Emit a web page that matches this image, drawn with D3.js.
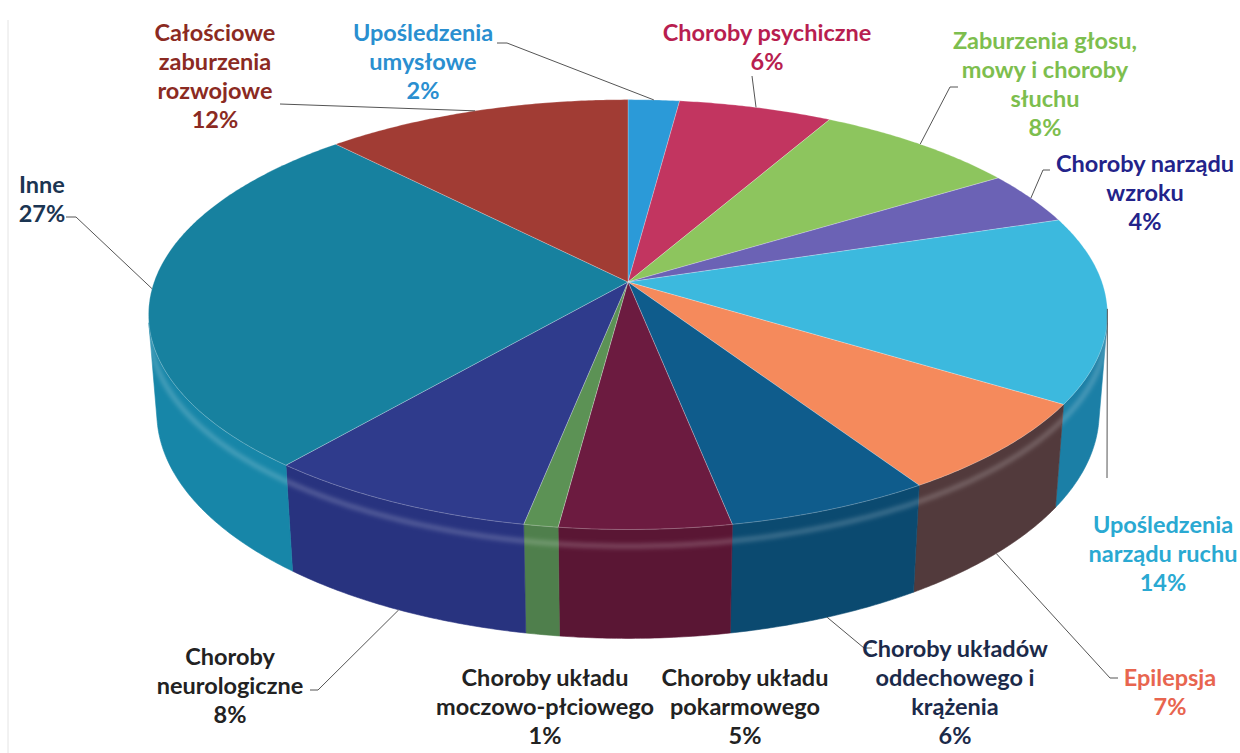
<!DOCTYPE html>
<html>
<head>
<meta charset="utf-8">
<script src="https://cdn.jsdelivr.net/npm/d3@7"></script>
<style>
  body { margin: 0; background: #fff; }
  text { font-family: Lato, "Open Sans", sans-serif; font-weight: 700; }
</style>
</head>
<body>
<svg id="chart" width="1240" height="753"></svg>
<script>
// data
const categories = [
  "Upośledzenia umysłowe", "Choroby psychiczne", "Zaburzenia głosu, mowy i choroby słuchu",
  "Choroby narządu wzroku", "Upośledzenia narządu ruchu", "Epilepsja",
  "Choroby układów oddechowego i krążenia", "Choroby układu pokarmowego",
  "Choroby układu moczowo-płciowego", "Choroby neurologiczne", "Inne",
  "Całościowe zaburzenia rozwojowe"
];
const values = [2, 6, 8, 4, 14, 7, 6, 5, 1, 8, 27, 12];
const labelLines = [
  ["Upośledzenia", "umysłowe"], ["Choroby psychiczne"], ["Zaburzenia głosu,", "mowy i choroby", "słuchu"],
  ["Choroby narządu", "wzroku"], ["Upośledzenia", "narządu ruchu"], ["Epilepsja"],
  ["Choroby układów", "oddechowego i", "krążenia"], ["Choroby układu", "pokarmowego"],
  ["Choroby układu", "moczowo-płciowego"], ["Choroby", "neurologiczne"], ["Inne"],
  ["Całościowe", "zaburzenia", "rozwojowe"]
];
const percentLabels = values.map(v => v + "%");

// colours
const topColors = ["#2b9ad8", "#c23560", "#8dc55e", "#6b62b5", "#3cb9de", "#f58a5c",
                   "#0f5c8c", "#6c1b40", "#5c9255", "#2f3b8c", "#17819f", "#a13c34"];
const sideColors = ["#1f7fb8", "#9a2448", "#6ea348", "#4f4894", "#1b7fa6", "#523a3c",
                    "#0b4a70", "#5a1634", "#4f7f4c", "#28337f", "#1786a8", "#7d2a24"];
const textColors = ["#2a8fd0", "#b81e50", "#7dbe4e", "#23238a", "#2aa9d2", "#e8654f",
                    "#1b2a4a", "#222222", "#222222", "#222222", "#1b3552", "#8b2a22"];

// label layout: centre x, centre y of first line, leader points near the label
const labelX = [423, 767, 1045, 1145, 1163, 1170, 955, 745, 545, 230, 42, 215];
const labelY = [32, 32, 40, 163, 524, 677, 648, 677, 677, 656, 184, 32];
const leaderNear = [
  [[497, 43], [507, 43]], [[752, 76]], [[958, 87], [950, 87]], [[1050, 170], [1043, 170]],
  [[1107, 478]], [[1118, 678], [1110, 678]], [[872, 648], [864, 648]], null, null,
  [[310, 690], [318, 690]], [[66, 217], [76, 217]], [[280, 104]]
];
const lineH = 29;

// 3D projection of the pie
const cx = 628, cy = 282, S = 474;
const tilt = 26.3 * Math.PI / 180, camDist = 5.92, thick = 0.232;
const F = S * camDist;
function project(theta, r, z) {
  const X = r * Math.sin(theta), Y = r * Math.cos(theta);
  const depth = camDist + Y * Math.cos(tilt) - z * Math.sin(tilt);
  const yc = Y * Math.sin(tilt) + z * Math.cos(tilt);
  return [cx + F * X / depth, cy - F * yc / depth];
}
const visA = Math.acos(-1 / (camDist * Math.cos(tilt)));
const visB = 2 * Math.PI - visA;

const svg = d3.select("#chart");
const pie = d3.pie().sort(null).startAngle(0).endAngle(2 * Math.PI);
const arcs = pie(values);
const line = d3.line();
const step = Math.PI / 360;

function rimPoints(a0, a1, z) {
  const n = Math.max(2, Math.ceil(Math.abs(a1 - a0) / step));
  return d3.range(n + 1).map(i => project(a0 + (a1 - a0) * i / n, 1, z));
}

const defs = svg.append("defs");
defs.append("filter").attr("id", "soft")
  .append("feGaussianBlur").attr("stdDeviation", 2.2);

// side faces (only the front part is visible)
const sides = svg.append("g");
arcs.forEach((d, i) => {
  const a0 = Math.max(d.startAngle, visA), a1 = Math.min(d.endAngle, visB);
  if (a1 <= a0) return;
  const pts = rimPoints(a0, a1, 0).concat(rimPoints(a1, a0, -thick));
  sides.append("path").attr("d", line(pts) + "Z")
    .attr("fill", sideColors[i]).attr("stroke", sideColors[i]).attr("stroke-width", 0.6);
});
// soft highlight just below the top edge
svg.append("path").attr("d", line(rimPoints(visA, visB, -0.035)))
  .attr("fill", "none").attr("stroke", "#ffffff").attr("stroke-opacity", 0.2)
  .attr("stroke-width", 5).attr("filter", "url(#soft)");

// top faces
const tops = svg.append("g");
arcs.forEach((d, i) => {
  const pts = [[cx, cy]].concat(rimPoints(d.startAngle, d.endAngle, 0));
  tops.append("path").attr("d", line(pts) + "Z")
    .attr("fill", topColors[i])
    .attr("stroke", "#ffffff").attr("stroke-opacity", 0.35).attr("stroke-width", 0.7);
});

// leader lines
arcs.forEach((d, i) => {
  if (!leaderNear[i]) return;
  const mid = (d.startAngle + d.endAngle) / 2;
  const anchor = Math.cos(mid) < Math.cos(visA) ? project(mid, 1, -thick) : project(mid, 1, 0);
  svg.append("path").attr("d", line(leaderNear[i].concat([anchor])))
    .attr("fill", "none").attr("stroke", "#555").attr("stroke-width", 1);
});

// labels
arcs.forEach((d, i) => {
  const t = svg.append("text").attr("text-anchor", "middle")
    .attr("font-size", 23.5).attr("fill", textColors[i]);
  labelLines[i].concat([percentLabels[i]]).forEach((s, k) => {
    t.append("tspan").attr("x", labelX[i]).attr("y", labelY[i] + k * lineH)
      .attr("dominant-baseline", "central").text(s);
  });
});

// faint scan frame on the left
svg.append("line").attr("x1", 8).attr("x2", 8).attr("y1", 20).attr("y2", 753)
  .attr("stroke", "#e4e4e4").attr("stroke-width", 1);
</script>
</body>
</html>
